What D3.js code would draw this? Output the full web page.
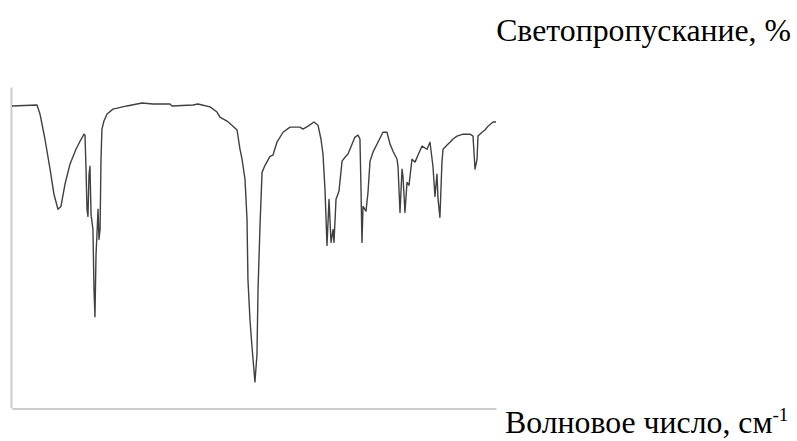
<!DOCTYPE html>
<html>
<head>
<meta charset="utf-8">
<script src="https://cdn.jsdelivr.net/npm/d3@7"></script>
<style>
  body { margin: 0; background: #fff; }
</style>
</head>
<body>
<div id="chart"></div>
<script>
// IR spectrum: wavenumber (cm-1) and transmittance (%)
var wavenumbers = [
  4000, 3814, 3792, 3755, 3717, 3688, 3658, 3636, 3606, 3569, 3524, 3494,
  3464, 3457, 3450, 3442, 3435, 3427, 3420, 3412, 3398, 3390, 3383, 3375,
  3368, 3360, 3353, 3345, 3338, 3331, 3316, 3293, 3249, 3145, 3033, 2951,
  2825, 2810, 2654, 2617, 2527, 2475, 2453, 2401, 2356, 2326, 2304, 2289,
  2267, 2252, 2245, 2230, 2215, 2193, 2178, 2170, 2155, 2140, 2118, 2081,
  2059, 2029, 1984, 1932, 1858, 1836, 1798, 1754, 1724, 1702, 1687, 1672,
  1657, 1642, 1627, 1612, 1605, 1590, 1568, 1545, 1523, 1501, 1471, 1449,
  1426, 1412, 1404, 1397, 1389, 1367, 1352, 1337, 1315, 1278, 1241, 1211,
  1188, 1166, 1136, 1129, 1114, 1099, 1092, 1077, 1062, 1047, 1025, 1002,
  980, 950, 913, 891, 869, 854, 839, 831, 817, 802, 794, 764,
  742, 720, 690, 645, 593, 571, 556, 541, 534, 504, 482, 459,
  422, 400
];
var transmittance = [
  94.1, 94.4, 91.6, 83.8, 74.4, 66.6, 61.9, 62.8, 69.7, 75.9, 80.6, 83.1,
  85.3, 85.0, 75.3, 61.9, 59.7, 72.8, 75.3, 60.3, 55.6, 36.9, 28.4, 47.8,
  54.1, 61.9, 52.5, 55.6, 77.5, 86.9, 89.4, 91.6, 93.1, 94.1, 95.0, 94.7,
  94.7, 94.1, 94.4, 94.7, 93.8, 92.2, 90.6, 89.4, 87.8, 86.6, 80.6, 77.5,
  71.3, 58.8, 40.0, 27.5, 19.1, 8.1, 16.6, 36.9, 57.2, 73.4, 75.6, 78.4,
  78.8, 82.8, 85.9, 87.5, 87.5, 86.9, 87.8, 89.1, 88.1, 83.8, 79.1, 68.1,
  50.6, 65.0, 51.6, 55.6, 51.6, 65.0, 67.5, 76.9, 78.1, 79.1, 82.2, 84.4,
  85.0, 83.8, 68.1, 51.6, 62.8, 61.3, 67.2, 76.9, 79.7, 82.8, 85.9, 85.9,
  82.2, 80.0, 77.5, 75.3, 60.9, 74.4, 72.2, 60.9, 70.3, 69.4, 77.5, 76.6,
  78.8, 81.6, 80.6, 82.8, 75.3, 65.9, 72.8, 65.0, 59.4, 76.6, 80.6, 81.9,
  82.8, 83.8, 84.7, 85.3, 85.3, 84.7, 74.4, 77.5, 84.7, 85.9, 86.6, 87.8,
  89.1, 89.1
];

var yTitle = "Светопропускание, %";
var xTitle = "Волновое число, см";
var xTitleSup = "-1";

var width = 797, height = 441;

// pick the first serif face that is really installed (canvas width test)
function pickFont(list) {
  var ctx = document.createElement("canvas").getContext("2d");
  var probe = "Светопропускание Wwmil 0123";
  ctx.font = "40px monospace";
  var base = ctx.measureText(probe).width;
  for (var i = 0; i < list.length; i++) {
    ctx.font = "40px '" + list[i] + "', monospace";
    if (Math.abs(ctx.measureText(probe).width - base) > 0.5) return "'" + list[i] + "', serif";
  }
  return "serif";
}
var serif = pickFont(["Liberation Serif", "Times New Roman", "Tinos", "DejaVu Serif", "Noto Serif", "FreeSerif"]);

var svg = d3.select("#chart")
  .append("svg")
  .attr("width", width)
  .attr("height", height);

var x = d3.scaleLinear().domain([4000, 400]).range([12, 496]);
var y = d3.scaleLinear().domain([0, 100]).range([408, 87]);

// axes: plain grey lines, no ticks
svg.append("g")
  .attr("transform", "translate(0,408.5)")
  .call(d3.axisBottom(x).tickValues([]).tickSizeOuter(0));
svg.append("g")
  .attr("transform", "translate(11,0)")
  .call(d3.axisLeft(y).tickValues([]).tickSizeOuter(0));
svg.selectAll(".domain")
  .attr("stroke", "#cccccc")
  .attr("stroke-width", 2);

var points = wavenumbers.map(function (w, i) {
  return { w: w, t: transmittance[i] };
});

var line = d3.line()
  .x(function (d) { return x(d.w); })
  .y(function (d) { return y(d.t); });

svg.append("path")
  .datum(points)
  .attr("fill", "none")
  .attr("stroke", "#404040")
  .attr("stroke-width", 1.4)
  .attr("stroke-linejoin", "round")
  .attr("d", line);

// titles
var yt = svg.append("text")
  .attr("x", 791)
  .attr("y", 41)
  .attr("text-anchor", "end")
  .attr("font-family", serif)
  .attr("font-size", 28)
  .text(yTitle);
// scale font so the title spans the same width as in the picture
var w0 = yt.node().getComputedTextLength();
var fs = 28 * 295 / w0;
yt.attr("font-size", fs);

var xt = svg.append("text")
  .attr("x", 505)
  .attr("y", 433)
  .attr("font-family", serif)
  .attr("font-size", fs);
xt.append("tspan").text(xTitle);
xt.append("tspan")
  .attr("dy", -12)
  .attr("font-size", fs * 0.6)
  .text(xTitleSup);
</script>
</body>
</html>
